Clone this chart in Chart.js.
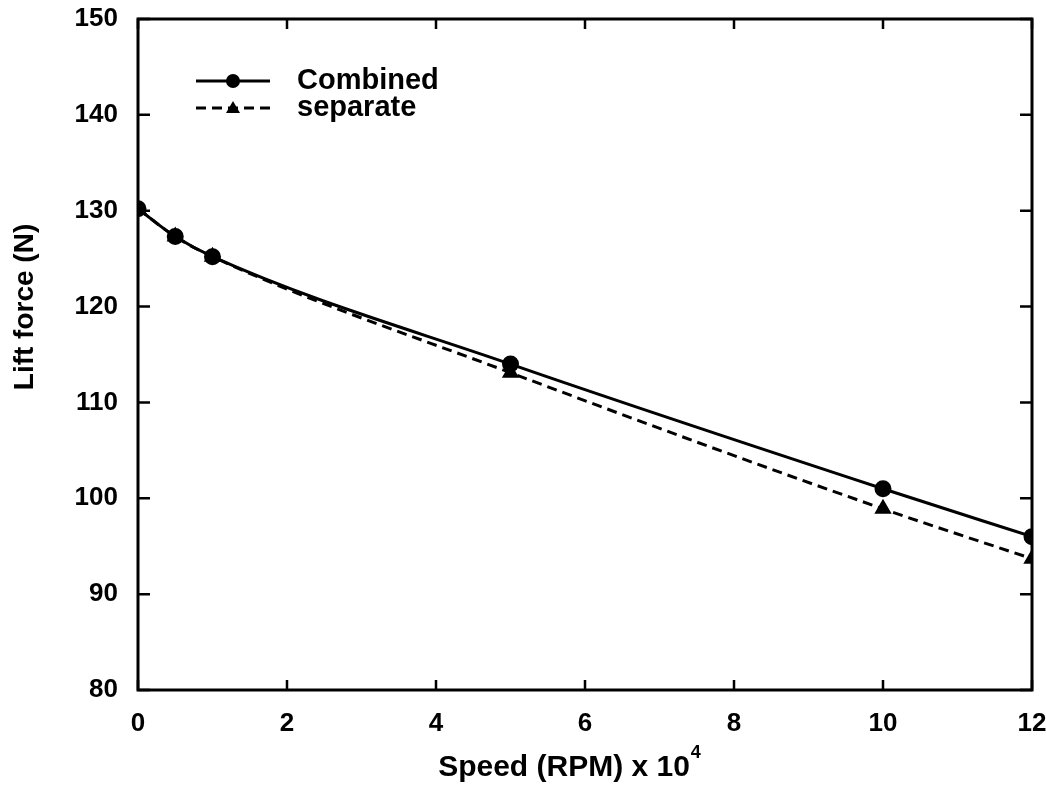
<!DOCTYPE html>
<html>
<head>
<meta charset="utf-8">
<script src="https://cdn.jsdelivr.net/npm/chart.js@4.4.1/dist/chart.umd.min.js"></script>
<style>
  html, body { margin: 0; padding: 0; background: #fff; }
  #wrap { width: 1046px; height: 790px; }
</style>
</head>
<body>
<div id="wrap"><canvas id="liftChart" width="1046" height="790"></canvas></div>
<script>
// Speed in RPM x 10^4
const speed = [0, 0.5, 1, 5, 10, 12];
// Lift force (N)
const combined = [130.2, 127.3, 125.2, 114.0, 101.0, 96.0];
const separate = [130.2, 127.3, 125.2, 113.1, 98.9, 93.7];
const xTicks = [0, 2, 4, 6, 8, 10, 12];
const yTicks = [80, 90, 100, 110, 120, 130, 140, 150];

const FONT = '"Liberation Sans", Arial, Helvetica, sans-serif';

function toPoints(ys) {
    return speed.map((x, i) => ({ x: x, y: ys[i] }));
}

// box around the plot, with ticks pointing inwards on all four sides
const frame = {
    id: 'frame',
    afterDraw(chart) {
        const ctx = chart.ctx;
        const a = chart.chartArea;
        const xs = chart.scales.x, ys = chart.scales.y;
        ctx.save();
        ctx.strokeStyle = '#000';
        ctx.lineWidth = 3;
        ctx.strokeRect(a.left, a.top, a.right - a.left, a.bottom - a.top);
        ctx.lineWidth = 2.5;
        ctx.beginPath();
        xTicks.forEach(v => {
            const px = xs.getPixelForValue(v);
            ctx.moveTo(px, a.bottom); ctx.lineTo(px, a.bottom - 10);
            ctx.moveTo(px, a.top); ctx.lineTo(px, a.top + 10);
        });
        yTicks.forEach(v => {
            const py = ys.getPixelForValue(v);
            ctx.moveTo(a.left, py); ctx.lineTo(a.left + 12, py);
            ctx.moveTo(a.right, py); ctx.lineTo(a.right - 12, py);
        });
        ctx.stroke();

        // x axis title with superscript
        ctx.fillStyle = '#000';
        ctx.textBaseline = 'alphabetic';
        ctx.font = 'bold 30px ' + FONT;
        const main = 'Speed (RPM) x 10';
        const w = ctx.measureText(main).width;
        ctx.font = 'bold 18px ' + FONT;
        const sw = ctx.measureText('4').width;
        const cx = (a.left + a.right) / 2 - 16;
        const startX = cx - (w + sw) / 2;
        ctx.font = 'bold 30px ' + FONT;
        ctx.textAlign = 'left';
        ctx.fillText(main, startX, 776);
        ctx.font = 'bold 18px ' + FONT;
        ctx.fillText('4', startX + w + 1, 758);

        // y axis title, sits a bit above the middle of the axis
        ctx.save();
        ctx.translate(25, 307);
        ctx.rotate(-Math.PI / 2);
        ctx.textAlign = 'center';
        ctx.textBaseline = 'middle';
        ctx.font = 'bold 28px ' + FONT;
        ctx.fillText('Lift force (N)', 0, 0);
        ctx.restore();

        // legend inside the plot
        const items = [
            { label: 'Combined', y: 81, dash: [], style: 'circle' },
            { label: 'separate', y: 108, dash: [10, 6], style: 'triangle' }
        ];
        items.forEach(it => {
            ctx.lineWidth = 3;
            ctx.setLineDash(it.dash);
            ctx.beginPath();
            ctx.moveTo(196, it.y); ctx.lineTo(270, it.y);
            ctx.stroke();
            ctx.setLineDash([]);
            ctx.beginPath();
            if (it.style === 'circle') {
                ctx.arc(233, it.y, 7, 0, Math.PI * 2);
            } else {
                ctx.moveTo(233, it.y - 7); ctx.lineTo(240, it.y + 5); ctx.lineTo(226, it.y + 5);
                ctx.closePath();
            }
            ctx.fill();
            ctx.font = 'bold 29px ' + FONT;
            ctx.textAlign = 'left';
            ctx.textBaseline = 'middle';
            ctx.fillText(it.label, 297, it.y);
        });
        ctx.restore();
    }
};

new Chart(document.getElementById('liftChart'), {
    type: 'line',
    data: {
        datasets: [
            {
                label: 'Combined',
                data: toPoints(combined),
                borderColor: '#000',
                backgroundColor: '#000',
                borderWidth: 3,
                pointStyle: 'circle',
                pointRadius: 7,
                cubicInterpolationMode: 'monotone'
            },
            {
                label: 'separate',
                data: toPoints(separate),
                borderColor: '#000',
                backgroundColor: '#000',
                borderWidth: 3,
                borderDash: [10, 6],
                pointStyle: 'triangle',
                pointRadius: 7,
                cubicInterpolationMode: 'monotone'
            }
        ]
    },
    options: {
        responsive: false,
        animation: false,
        layout: { padding: { left: 0, right: 14, top: 19, bottom: 0 } },
        plugins: {
            legend: { display: false },
            tooltip: { enabled: false }
        },
        scales: {
            x: {
                type: 'linear',
                min: 0,
                max: 12,
                border: { display: false },
                grid: { display: false },
                ticks: {
                    stepSize: 2,
                    padding: 10,
                    color: '#000',
                    font: { family: FONT, size: 26, weight: 'bold' }
                },
                afterFit(scale) {
                    scale.height = 100;
                    scale.paddingLeft = 0;
                    scale.paddingRight = 0;
                }
            },
            y: {
                min: 80,
                max: 150,
                border: { display: false },
                grid: { display: false },
                ticks: {
                    stepSize: 10,
                    padding: 12,
                    color: '#000',
                    font: { family: FONT, size: 26, weight: 'bold' }
                },
                afterFit(scale) {
                    scale.width = 138;
                    scale.paddingTop = 0;
                    scale.paddingBottom = 0;
                }
            }
        }
    },
    plugins: [frame]
});
</script>
</body>
</html>
